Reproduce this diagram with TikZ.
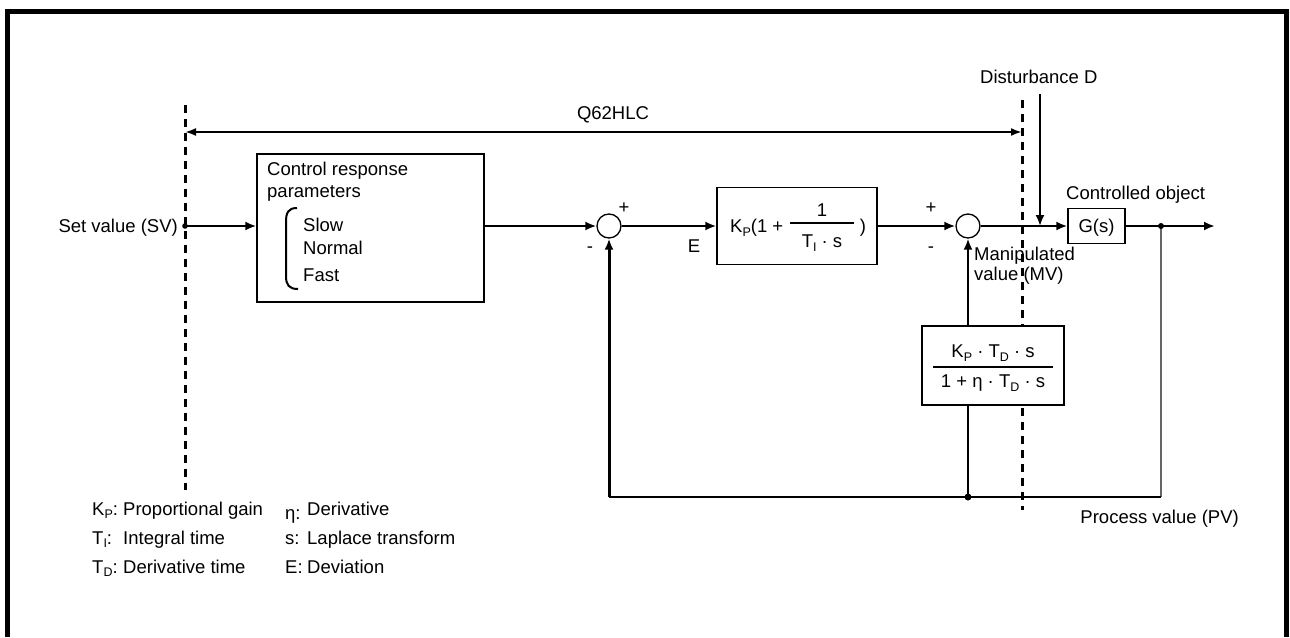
\documentclass[tikz,border=0pt]{standalone}
\usepackage{fontspec}
\setmainfont{Liberation Sans}
\usetikzlibrary{arrows.meta}
\newcommand\idx[1]{\raisebox{-3.5pt}{\fontsize{12.5}{12.5}\selectfont #1}}

\begin{document}
\begin{tikzpicture}[x=1pt,y=-1pt,
        every node/.style={font=\fontsize{18.5}{20}\selectfont, inner sep=0pt, text height=13.3pt, text depth=0pt},
        blk/.style={draw, fill=white, line width=1.3pt},
        sumnode/.style={draw, circle, line width=1.3pt, minimum size=24pt},
        sig/.style={line width=2.4pt, -{Latex[length=11pt,width=9pt]}},
        wire/.style={line width=2.4pt},
        bound/.style={line width=3pt, dash pattern=on 8pt off 6pt},
        bar/.style={line width=1.3pt}]
    \useasboundingbox (0,0) rectangle (1290,637);
    \draw[line width=5pt] (7.5,637) -- (7.5,11.5) -- (1286.5,11.5) -- (1286.5,637);
    \draw[bound] (185,105) -- (185,490);
    \draw[bound] (1022,100) -- (1022,510);

    \node[blk, minimum width=227pt, minimum height=148pt] (crp) at (370.5,228) {};
    \node[blk, minimum width=160pt, minimum height=77pt] (pi) at (797,226) {};
    \node[blk, minimum width=142pt, minimum height=79pt] (der) at (993,365.5) {};
    \node[blk, minimum width=57pt, minimum height=35pt] (gs) at (1096.5,226) {G(s)};
    \node[sumnode] (sa) at (609,226) {};
    \node[sumnode] (sb) at (968,226) {};

    \coordinate (sv) at (185,226);
    \coordinate (pv) at (1161,226);
    \coordinate (out) at (1215,226);
    \coordinate (pvb) at (1161,497);
    \coordinate (fbm) at (968,497);
    \coordinate (fbl) at (609,497);
    \coordinate (dist) at (1040,94);
    \coordinate (ql) at (185,132);
    \coordinate (qr) at (1022,132);

    \draw[line width=2pt, {Latex[length=11pt,width=8pt]}-{Latex[length=11pt,width=8pt]}] (ql) -- (qr);
    \draw[sig] (sv) -- (sv -| crp.west);
    \draw[sig] (sv -| crp.east) -- (sa.west);
    \draw[sig] (sa.east) -- (pi.west);
    \draw[sig] (pi.east) -- (sb.west);
    \draw[sig] (sb.east) -- (gs.west);
    \draw[sig] (gs.east) -- (out);
    \draw[sig, line width=2pt] (dist) -- (dist |- gs.west);
    \draw[line width=2pt, black!60] (pv) -- (pvb);
    \draw[line width=1.6pt] (pvb) -- (fbl);
    \draw[sig, line width=3pt] (fbl) -- (sa.south);
    \draw[wire, line width=2pt] (fbm) -- (fbm |- der.south);
    \draw[sig, line width=2pt] (fbm |- der.north) -- (sb.south);
    \fill (sv) circle[radius=2.8pt];
    \fill (pv) circle[radius=3pt];
    \fill (fbm) circle[radius=3.5pt];

    \draw[line width=2pt] (297,208) .. controls (288,208) and (286,213) .. (286,222) -- (286,276) .. controls (286,285) and (289,289) .. (298,289);
    \node[anchor=west] (crp1) at (267,169) {Control response};
    \node[anchor=west] (crp2) at (267,191) {parameters};
    \node[anchor=west] (slow) at (303,224.5) {Slow};
    \node[anchor=west] (norm) at (303,247.5) {Normal};
    \node[anchor=west] (fast) at (303,274.5) {Fast};

    \node[anchor=west] (pik) at (730,226) {K\idx{P}(1 +};
    \node (pin) at (822,210) {1};
    \draw[bar] (790,223) -- (854,223);
    \node (pid) at (822,241) {T\idx{I} · s};
    \node (pip) at (863,226) {)};

    \node (dn) at (993,351) {K\idx{P} · T\idx{D} · s};
    \draw[bar] (933,367) -- (1053,367);
    \node (dd) at (993,381) {1 + η · T\idx{D} · s};

    \node[anchor=east] (svl) at (178,226) {Set value (SV)};
    \node (qlab) at (613,113) {Q62HLC};
    \node[anchor=west] (dlab) at (980,77) {Disturbance D};
    \node[anchor=west] (colab) at (1066,193) {Controlled object};
    \node[anchor=east] (pvlab) at (1239,517) {Process value (PV)};
    \node[anchor=west] (mv1) at (974,254) {Manipulated};
    \node[anchor=west] (mv2) at (974,274) {value (MV)};
    \node (pa) at (624,207) {+};
    \node (ma) at (590,246) {-};
    \node (pb) at (931,207) {+};
    \node (mb) at (931,246) {-};
    \node (elab) at (694,246) {E};

    \node[anchor=west] (kpl) at (92,508.5) {K\idx{P}:};
    \node[anchor=west] (kpt) at (123,508.5) {Proportional gain};
    \node[anchor=west] (til) at (92,537.5) {T\idx{I}:};
    \node[anchor=west] (tit) at (123,537.5) {Integral time};
    \node[anchor=west] (tdl) at (92,566.5) {T\idx{D}:};
    \node[anchor=west] (tdt) at (123,566.5) {Derivative time};
    \node[anchor=west] (etal) at (285,513) {η:};
    \node[anchor=west] (etat) at (307,508.5) {Derivative};
    \node[anchor=west] (sl) at (285,537.5) {s:};
    \node[anchor=west] (st) at (307,537.5) {Laplace transform};
    \node[anchor=west] (el) at (285,566.5) {E:};
    \node[anchor=west] (et) at (307,566.5) {Deviation};
\end{tikzpicture}
\end{document}
